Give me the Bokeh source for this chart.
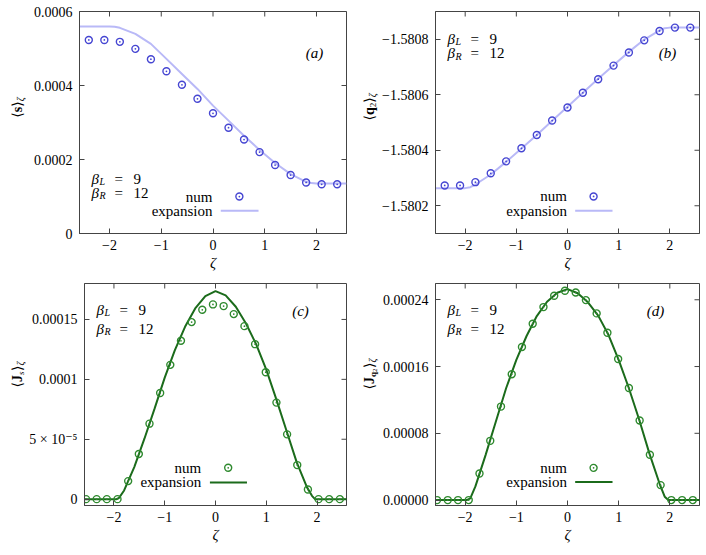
import numpy as np
from bokeh.plotting import figure
from bokeh.models import Range1d, FixedTicker, Label
from bokeh.layouts import column, row
from bokeh.embed import file_html
from bokeh.resources import INLINE

FONT = "Liberation Serif, DejaVu Serif, serif"

# ---------------- data ----------------
# panels (a) and (b): numerical points
zeta_num_ab = [-2.4, -2.1, -1.8, -1.5, -1.2, -0.9, -0.6, -0.3, 0.0, 0.3, 0.6, 0.9, 1.2, 1.5, 1.8, 2.1, 2.4]
s_num = [5.23e-4, 5.23e-4, 5.18e-4, 4.99e-4, 4.71e-4, 4.385e-4, 4.02e-4, 3.64e-4, 3.25e-4,
         2.86e-4, 2.54e-4, 2.20e-4, 1.85e-4, 1.58e-4, 1.38e-4, 1.33e-4, 1.33e-4]
q2_num = [-1.580273, -1.580273, -1.580285, -1.580317, -1.580360, -1.580407, -1.580455, -1.580507, -1.580554,
          -1.580607, -1.580656, -1.580705, -1.580752, -1.580796, -1.580830, -1.580842, -1.580842]
# panels (a) and (b): expansion curves
zeta_exp_ab = [-2.58, -2.0, -1.9, -1.8, -1.5, -1.2, -0.9, -0.6, -0.3, 0.0, 0.3, 0.6, 0.9, 1.2, 1.5, 1.8, 1.9, 2.0, 2.58]
s_exp = [5.594e-4, 5.594e-4, 5.585e-4, 5.558e-4, 5.395e-4, 5.125e-4, 4.719e-4, 4.313e-4, 3.907e-4, 3.456e-4,
         3.05e-4, 2.644e-4, 2.256e-4, 1.904e-4, 1.606e-4, 1.398e-4, 1.362e-4, 1.353e-4, 1.353e-4]
q2_exp = [-1.5802635, -1.5802635, -1.580267, -1.5802766, -1.5803126, -1.5803581, -1.580406, -1.5804551,
          -1.5805066, -1.5805569, -1.5806072, -1.5806575, -1.5807066, -1.5807545, -1.5807988, -1.5808323,
          -1.580840, -1.5808419, -1.5808419]

# panels (c) and (d): numerical points
zeta_num_cd = [-2.55, -2.34, -2.14, -1.93, -1.72, -1.51, -1.30, -1.09, -0.89, -0.68, -0.47, -0.26, -0.05,
               0.16, 0.36, 0.57, 0.78, 0.99, 1.20, 1.41, 1.61, 1.82, 2.03, 2.24, 2.45]
js_num = [0, 0, 0, 0, 1.506e-5, 3.764e-5, 6.301e-5, 8.866e-5, 1.1208e-4, 1.3216e-4, 1.4777e-4, 1.5808e-4,
          1.6254e-4, 1.6115e-4, 1.5446e-4, 1.4442e-4, 1.2937e-4, 1.0595e-4, 8.057e-5, 5.409e-5, 2.844e-5,
          8.09e-6, 0, 0, 0]
jq_num = [0, 0, 0, 0, 3.19e-5, 7.097e-5, 1.1203e-4, 1.5071e-4, 1.834e-4, 2.113e-4, 2.3125e-4, 2.448e-4,
          2.508e-4, 2.488e-4, 2.396e-4, 2.237e-4, 2.005e-4, 1.690e-4, 1.3436e-4, 9.529e-5, 5.422e-5,
          1.794e-5, 0, 0, 0]
# panels (c) and (d): expansion curves
zeta_exp_c = [-2.6, -1.95, -1.9, -1.8, -1.6, -1.4, -1.2, -1.0, -0.8, -0.6, -0.4, -0.2, 0.0,
              0.2, 0.4, 0.6, 0.8, 1.0, 1.2, 1.4, 1.6, 1.8, 1.9, 1.96, 2.6]
js_exp = [0, 0, 1.1e-6, 7.25e-6, 2.676e-5, 5.046e-5, 7.555e-5, 1.0148e-4, 1.2434e-4, 1.4386e-4, 1.5919e-4,
          1.6951e-4, 1.7369e-4, 1.7007e-4, 1.6059e-4, 1.4665e-4, 1.2936e-4, 1.0817e-4, 8.308e-5, 5.688e-5,
          3.067e-5, 1.004e-5, 2.79e-6, 0, 0]
zeta_exp_d = [-2.6, -1.97, -1.9, -1.8, -1.6, -1.4, -1.2, -1.0, -0.8, -0.6, -0.4, -0.2, 0.0,
              0.2, 0.4, 0.6, 0.8, 1.0, 1.2, 1.4, 1.6, 1.8, 1.9, 1.97, 2.6]
jq_exp = [0, 0, 2e-6, 1.635e-5, 5.42e-5, 9.41e-5, 1.34e-4, 1.679e-4, 1.966e-4, 2.205e-4, 2.376e-4, 2.484e-4,
          2.528e-4, 2.478e-4, 2.37e-4, 2.21e-4, 1.98e-4, 1.68e-4, 1.34e-4, 9.65e-5, 5.6e-5, 1.95e-5, 4e-6, 0, 0]

# ticks
x_ticks = [-2, -1, 0, 1, 2]
x_tick_labels = ["\u22122", "\u22121", "0", "1", "2"]
a_ticks = [0, 2e-4, 4e-4, 6e-4]
a_tick_labels = ["0", "0.0002", "0.0004", "0.0006"]
b_ticks = [-1.5808, -1.5806, -1.5804, -1.5802]
b_tick_labels = ["\u22121.5808", "\u22121.5806", "\u22121.5804", "\u22121.5802"]
c_ticks = [0, 5e-5, 1e-4, 1.5e-4]
c_tick_labels = ["0", "5 \u00d7 10\u207b\u2075", "0.0001", "0.00015"]
d_ticks = [0, 8e-5, 1.6e-4, 2.4e-4]
d_tick_labels = ["0.00000", "0.00008", "0.00016", "0.00024"]

# ---------------- styles ----------------
BLUE_PT = "#4646d2"
BLUE_LINE = "#b9b9f7"
GREEN_PT = "#2f8a2f"
GREEN_LINE = "#1b6b1b"
FRAME = "#444444"
XR = (-2.58, 2.58)
LAB_W = 26
PANEL_W = 327
ROW_H = (277, 278)


def make_fig(yr, yticks, ylabels, top_row):
    p = figure(width=PANEL_W, height=ROW_H[0] if top_row else ROW_H[1],
               x_range=Range1d(*XR), y_range=Range1d(*yr),
               output_backend="svg", toolbar_location=None,
               min_border_left=53, min_border_right=7,
               min_border_top=11 if top_row else 6,
               min_border_bottom=44 if top_row else 50)
    p.background_fill_color = "white"
    p.border_fill_color = "white"
    p.outline_line_color = FRAME
    p.outline_line_width = 1
    p.xgrid.visible = False
    p.ygrid.visible = False
    p.xaxis.ticker = FixedTicker(ticks=x_ticks)
    p.xaxis.major_label_overrides = dict(zip(x_ticks, x_tick_labels))
    p.yaxis.ticker = FixedTicker(ticks=yticks)
    p.yaxis.major_label_overrides = dict(zip(yticks, ylabels))
    for ax in (p.xaxis[0], p.yaxis[0]):
        ax.major_tick_in = 5
        ax.major_tick_out = 0
        ax.minor_tick_line_color = None
        ax.axis_line_color = FRAME
        ax.major_tick_line_color = FRAME
        ax.major_label_text_font = FONT
        ax.major_label_text_font_size = "14px"
        ax.major_label_text_color = "black"
    p.yaxis.major_label_standoff = 7
    p.xaxis.major_label_standoff = 6
    p.xaxis.axis_label = "\u03b6"
    p.xaxis.axis_label_text_font = FONT
    p.xaxis.axis_label_text_font_size = "15px"
    p.xaxis.axis_label_text_font_style = "italic"
    p.xaxis.axis_label_text_color = "black"
    p.xaxis.axis_label_standoff = 2
    # mirrored inner ticks on the top and right frame edges (half of each dash is clipped)
    p.scatter(x_ticks, [yr[1]] * len(x_ticks), marker="dash", size=10, angle=np.pi / 2,
              line_color=FRAME, line_width=1)
    p.scatter([XR[1]] * len(yticks), yticks, marker="dash", size=10, angle=0,
              line_color=FRAME, line_width=1)
    return p


def pieces(p, x, y, items, dx0=0, dy0=0, rotated=False):
    """items: (text, size, advance, drop, style)"""
    for text, size, adv, drop, style in items:
        if rotated:
            xo, yo, ang = dx0 + drop, dy0 + adv, np.pi / 2
        else:
            xo, yo, ang = dx0 + adv, dy0 - drop, 0
        p.add_layout(Label(x=x, y=y, x_offset=xo, y_offset=yo, text=text, angle=ang,
                           text_font=FONT, text_font_size=f"{size}px", text_font_style=style,
                           text_align="left", text_baseline="alphabetic", text_color="black"))


def label_fig(items, total, base_x, center_y, h):
    """narrow figure holding the rotated y-axis title of the panel to its right"""
    f = figure(width=LAB_W, height=h, x_range=Range1d(0, LAB_W), y_range=Range1d(0, h),
               x_axis_type=None, y_axis_type=None, output_backend="svg", toolbar_location=None,
               min_border=0, outline_line_color=None)
    f.background_fill_color = "white"
    f.border_fill_color = "white"
    f.xgrid.visible = False
    f.ygrid.visible = False
    pieces(f, base_x, center_y - total / 2, items, rotated=True)
    return f


def betas(p, yref, off1, off2):
    x = XR[0]
    pieces(p, x, yref, [("\u03b2", 15, 0, 0, "italic"), ("L", 10, 8, 3, "italic"),
                        ("=", 15, 23, 0, "normal"), ("9", 15, 42, 0, "normal")], dx0=12, dy0=off1)
    pieces(p, x, yref, [("\u03b2", 15, 0, 0, "italic"), ("R", 10, 8, 3, "italic"),
                        ("=", 15, 23, 0, "normal"), ("12", 15, 42, 0, "normal")], dx0=12, dy0=off2)


def panel_tag(p, yr, tag, dx, dy):
    p.add_layout(Label(x=XR[1], y=yr[1], x_offset=dx, y_offset=dy, text=tag,
                       text_font=FONT, text_font_size="15px", text_font_style="italic",
                       text_align="center", text_baseline="middle", text_color="black"))


def legend(p, x_txt, y_num, y_exp, x_mk, x_l0, x_l1, pt_color, ln_color):
    for t, yy in (("num", y_num), ("expansion", y_exp)):
        p.add_layout(Label(x=x_txt, y=yy, text=t, text_font=FONT, text_font_size="15px",
                           text_align="right", text_baseline="middle", text_color="black"))
    p.scatter([x_mk], [y_num], marker="circle_dot", size=7, fill_color=None,
              line_color=pt_color, line_width=1.4)
    p.line([x_l0, x_l1], [y_exp, y_exp], line_color=ln_color, line_width=2)


# ---------------- panel (a) ----------------
ya = (0, 6e-4)
pa = make_fig(ya, a_ticks, a_tick_labels, True)
pa.line(zeta_exp_ab, s_exp, line_color=BLUE_LINE, line_width=2)
pa.scatter(zeta_num_ab, s_num, marker="circle_dot", size=7, fill_color=None,
           line_color=BLUE_PT, line_width=1.4)
legend(pa, -0.01, 1.0e-4, 6.14e-5, 0.51, 0.15, 0.88, BLUE_PT, BLUE_LINE)
betas(pa, ya[0], 55, 41)
panel_tag(pa, ya, "(a)", -32, -41)
la = label_fig([("\u27e8", 14, 0, 0, "normal"), ("s", 14, 5.5, 0, "bold"),
                ("\u27e9", 14, 11, 0, "normal"), ("\u03b6", 10, 16.5, 3, "italic")],
               21, 17, 155, ROW_H[0])

# ---------------- panel (b) ----------------
yb = (-1.5801, -1.5809)
pb = make_fig(yb, b_ticks, b_tick_labels, True)
pb.line(zeta_exp_ab, q2_exp, line_color=BLUE_LINE, line_width=2)
pb.scatter(zeta_num_ab, q2_num, marker="circle_dot", size=7, fill_color=None,
           line_color=BLUE_PT, line_width=1.4)
legend(pb, -0.01, -1.5802335, -1.5801819, 0.51, 0.15, 0.88, BLUE_PT, BLUE_LINE)
betas(pb, yb[1], -27, -41.5)
panel_tag(pb, yb, "(b)", -32, -41)
lb = label_fig([("\u27e8", 14, 0, 0, "normal"), ("q", 14, 5.5, 0, "bold"), ("2", 9, 13.3, 3, "normal"),
                ("\u27e9", 14, 17.8, 0, "normal"), ("\u03b6", 10, 23.3, 3, "italic")],
               28, 16, 155, ROW_H[0])

# ---------------- panel (c) ----------------
yc_ = (-5.3e-6, 1.8e-4)
pc = make_fig(yc_, c_ticks, c_tick_labels, False)
pc.line(zeta_exp_c, js_exp, line_color=GREEN_LINE, line_width=2)
pc.scatter(zeta_num_cd, js_num, marker="circle_dot", size=7, fill_color=None,
           line_color=GREEN_PT, line_width=1.4)
legend(pc, -0.28, 2.62e-5, 1.39e-5, 0.25, -0.11, 0.62, GREEN_PT, GREEN_LINE)
betas(pc, yc_[1], -26, -45)
panel_tag(pc, yc_, "(c)", -46, -27)
lc = label_fig([("\u27e8", 14, 0, 0, "normal"), ("J", 14, 5.5, 0, "bold"), ("s", 9, 12.5, 3, "italic"),
                ("\u27e9", 14, 16.5, 0, "normal"), ("\u03b6", 10, 22, 3, "italic")],
               26.5, 17, 161, ROW_H[1])

# ---------------- panel (d) ----------------
yd = (-6.5e-6, 2.595e-4)
pd_ = make_fig(yd, d_ticks, d_tick_labels, False)
pd_.line(zeta_exp_d, jq_exp, line_color=GREEN_LINE, line_width=2)
pd_.scatter(zeta_num_cd, jq_num, marker="circle_dot", size=7, fill_color=None,
            line_color=GREEN_PT, line_width=1.4)
legend(pd_, -0.01, 3.86e-5, 2.18e-5, 0.51, 0.15, 0.88, GREEN_PT, GREEN_LINE)
betas(pd_, yd[1], -26, -45)
panel_tag(pd_, yd, "(d)", -44, -27)
ld = label_fig([("\u27e8", 14, 0, 0, "normal"), ("J", 14, 5.5, 0, "bold"), ("q", 9, 12.5, 3, "bold"),
                ("2", 7, 17.5, 5, "normal"), ("\u27e9", 14, 21.5, 0, "normal"),
                ("\u03b6", 10, 27, 3, "italic")], 31.5, 16, 161, ROW_H[1])

layout = column(row(la, pa, lb, pb), row(lc, pc, ld, pd_))
open("out.html", "w").write(file_html(layout, INLINE))
